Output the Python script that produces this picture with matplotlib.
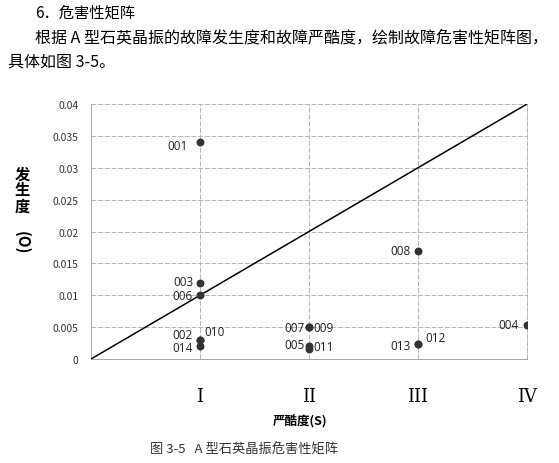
import numpy as np
import matplotlib.pyplot as plt

plt.rcParams['font.family'] = ['Noto Sans CJK SC', 'DejaVu Sans']

# ---------------------------------------------------------------
#   data
# ---------------------------------------------------------------
codes = ['001', '003', '006', '002', '010', '014',
         '007', '009', '005', '011', '008', '013', '012', '004']
severity = [1, 1, 1, 1, 1, 1, 2, 2, 2, 2, 3, 3, 3, 4]
occurrence = [0.034, 0.012, 0.010, 0.003, 0.003, 0.002,
              0.005, 0.005, 0.002, 0.0015, 0.017, 0.0023, 0.0023, 0.0054]
sev_labels = ['I', 'II', 'III', 'IV']
yticks = [0, 0.005, 0.01, 0.015, 0.02, 0.025, 0.03, 0.035, 0.04]

# label placement (offset in points, horizontal alignment)
label_pos = {
    '001': (-9, -2, 'right'), '003': (-5, 1, 'right'), '006': (-5, 0, 'right'),
    '002': (-5, 4, 'right'), '010': (3, 6, 'left'), '014': (-5, -1, 'right'),
    '007': (-3, 0, 'right'), '009': (3, 0, 'left'), '005': (-3, 1, 'right'),
    '011': (3, 2, 'left'), '008': (-5, 0, 'right'), '013': (-5, -1, 'right'),
    '012': (5, 5, 'left'), '004': (-6, 0, 'right'),
}

fig = plt.figure(figsize=(5.59, 4.64), dpi=100)
ax = fig.add_axes([0.1628, 0.2241, 0.78, 0.5496])

# diagonal boundary line
ax.plot([0, 4], [0, 0.04], color='black', lw=1.1, zorder=3)

ax.scatter(severity, occurrence, s=22, color='#333333', zorder=4)
for c, x, y in zip(codes, severity, occurrence):
    dx, dy, ha = label_pos[c]
    ax.annotate(c, (x, y), xytext=(dx, dy), textcoords='offset points',
                ha=ha, va='center', fontsize=8.5, family='Open Sans',
                color='#222222')

ax.set_xlim(0, 4)
ax.set_ylim(0, 0.04)
ax.set_xticks([1, 2, 3, 4])
ax.set_xticklabels(sev_labels, family='DejaVu Serif', fontsize=13)
ax.set_yticks(yticks)
ax.set_yticklabels(['%g' % v for v in yticks], fontsize=7.5, color='#333333')
ax.tick_params(axis='x', length=0, pad=20)
ax.tick_params(axis='y', length=0, pad=9)
ax.grid(True, color='#aaaaaa', lw=0.6, ls=(0, (6, 2)))
ax.spines['top'].set_visible(False)
ax.spines['right'].set_color('#aaaaaa')
ax.spines['right'].set_linewidth(0.6)
ax.spines['right'].set_linestyle((0, (6, 2)))
for s in ['left', 'bottom']:
    ax.spines[s].set_color('#999999')
    ax.spines[s].set_linewidth(0.6)

ax.set_xlabel('严酷度(S)', fontsize=9, fontweight='bold', labelpad=10)
ax.xaxis.set_label_coords(0.48, -0.21)

# vertical y label
fig.text(0.04, 0.59, '发\n生\n度', fontsize=11, fontweight='bold',
         ha='center', va='center', linespacing=1.0)
fig.text(0.04, 0.478, '(O)', fontsize=11, fontweight='bold', rotation=270,
         ha='center', va='center')

# surrounding page text
fig.text(0.063, 0.972, '6．危害性矩阵', fontsize=11, va='center')
fig.text(0.063, 0.918, '根据 A 型石英晶振的故障发生度和故障严酷度，绘制故障危害性矩阵图，',
         fontsize=11.5, va='center')
fig.text(0.014, 0.866, '具体如图 3-5。', fontsize=11.5, va='center')
fig.text(0.268, 0.03, '图 3-5   A 型石英晶振危害性矩阵', fontsize=9.5, va='center',
         color='#333333')

fig.savefig('out.png', dpi=100)
